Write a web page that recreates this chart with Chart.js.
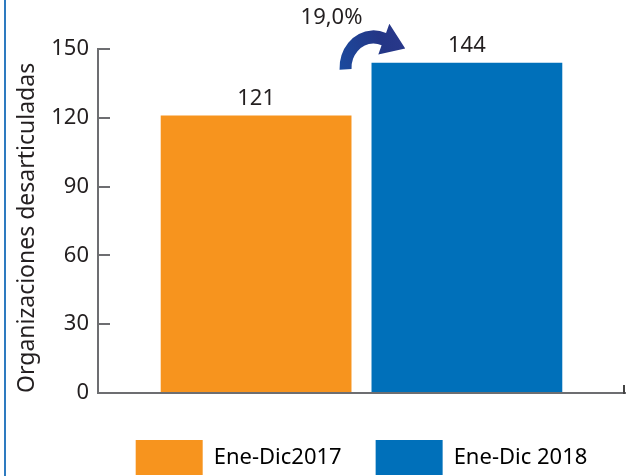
<!DOCTYPE html>
<html>
<head>
<meta charset="utf-8">
<script src="https://cdn.jsdelivr.net/npm/chart.js@4.4.1/dist/chart.umd.min.js"></script>
<style>
html, body { margin: 0; padding: 0; background: #fff; }
#grafico { display: block; }
</style>
</head>
<body>
<canvas id="grafico" width="628" height="476"></canvas>
<script>
// Datos del gráfico
var categorias = ['Ene-Dic2017', 'Ene-Dic 2018'];
var valores = [121, 144];
var colores = ['#F7941E', '#0070BA'];
var ticksY = [0, 30, 60, 90, 120, 150];
var tituloY = 'Organizaciones desarticuladas';

var fuente = '"Noto Sans", "Open Sans", sans-serif';
var colorTexto = '#231F20';
var colorEje = '#6D6E71';

// Variación entre los dos periodos
var variacion = ((valores[1] - valores[0]) / valores[0] * 100).toFixed(1).replace('.', ',') + '%';

// Puntos de la serie (posición de categoría en x)
var puntos = valores.map(function(v, i) { return { x: i, y: v }; });

// Borde izquierdo, etiquetas de valor y flecha de variación
var decoracion = {
    id: 'decoracion',
    beforeDraw: function(chart) {
        var ctx = chart.ctx;
        ctx.save();
        ctx.fillStyle = '#2E7BC0';
        ctx.fillRect(4, 0, 2, chart.height);
        ctx.restore();
    },
    afterDatasetsDraw: function(chart) {
        var ctx = chart.ctx;
        var barras = chart.getDatasetMeta(0).data;
        var area = chart.chartArea;
        ctx.save();
        ctx.font = '22px ' + fuente;
        ctx.fillStyle = colorTexto;
        ctx.textAlign = 'center';
        ctx.textBaseline = 'alphabetic';
        barras.forEach(function(b, i) {
            ctx.fillText(valores[i], b.x, b.y - 11);
        });

        // marca al final del eje x
        ctx.strokeStyle = '#444';
        ctx.lineWidth = 2;
        ctx.beginPath();
        ctx.moveTo(area.right - 1, area.bottom - 8);
        ctx.lineTo(area.right - 1, area.bottom + 1);
        ctx.stroke();

        // flecha curva
        var b2 = barras[1];
        var cx = b2.x - b2.width / 2 + 2;
        var cy = b2.y + 5;
        var ri = 22, ro = 34;
        var a0 = Math.PI - 0.05, a1 = 1.62 * Math.PI;
        ctx.save();
        ctx.translate(cx, cy);
        ctx.scale(1, 1.1);
        var grad = ctx.createLinearGradient(-ro, 0, ro + 20, -ro);
        grad.addColorStop(0, '#1B4A9E');
        grad.addColorStop(0.5, '#243686');
        grad.addColorStop(1, '#2E3A8F');
        ctx.fillStyle = grad;
        ctx.beginPath();
        ctx.arc(0, 0, ro, a0, a1);
        var rm = (ri + ro) / 2;
        var c = Math.cos(a1), s = Math.sin(a1);
        ctx.lineTo((ro + 9) * c, (ro + 9) * s);
        ctx.lineTo(rm * c - 23 * s, rm * s + 23 * c);
        ctx.lineTo((ri - 9) * c, (ri - 9) * s);
        ctx.lineTo(ri * c, ri * s);
        ctx.arc(0, 0, ri, a1, a0, true);
        ctx.closePath();
        ctx.fill();
        ctx.restore();

        ctx.fillStyle = colorTexto;
        ctx.fillText(variacion, cx - 42, 24);
        ctx.restore();
    }
};

var ctx = document.getElementById('grafico').getContext('2d');
var grafico = new Chart(ctx, {
    type: 'bar',
    data: {
        datasets: [{
            data: puntos,
            backgroundColor: colores,
            borderWidth: 0,
            barPercentage: 0.905,
            categoryPercentage: 1
        }]
    },
    options: {
        responsive: false,
        animation: false,
        devicePixelRatio: 1,
        layout: { padding: { left: 10, right: 3, top: 49, bottom: -9 } },
        scales: {
            x: {
                type: 'linear',
                min: -0.75,
                max: 1.75,
                offset: false,
                afterBuildTicks: function(s) {
                    s.ticks = puntos.map(function(p) { return { value: p.x }; });
                },
                grid: { display: false },
                border: { display: true, color: colorEje, width: 2 },
                ticks: { display: false },
                afterFit: function(s) { s.height = 13; }
            },
            y: {
                min: 0,
                max: 150,
                afterBuildTicks: function(s) {
                    s.ticks = ticksY.map(function(v) { return { value: v }; });
                },
                ticks: {
                    font: { family: fuente, size: 22 },
                    color: colorTexto,
                    padding: 21
                },
                grid: {
                    drawOnChartArea: false,
                    tickLength: -12,
                    color: colorEje,
                    lineWidth: 2
                },
                border: { color: colorEje, width: 2 },
                title: {
                    display: true,
                    text: tituloY,
                    align: 'start',
                    font: { family: fuente, size: 23 },
                    color: colorTexto,
                    padding: { top: 4, bottom: 0 }
                },
                afterFit: function(s) { s.width = 88; }
            }
        },
        plugins: {
            legend: {
                position: 'bottom',
                fullSize: false,
                labels: {
                    boxWidth: 67,
                    boxHeight: 35,
                    padding: 34,
                    color: colorTexto,
                    font: { family: fuente, size: 22 },
                    generateLabels: function() {
                        return categorias.map(function(c, i) {
                            return { text: c, fillStyle: colores[i], strokeStyle: colores[i], lineWidth: 0, hidden: false, index: i };
                        });
                    }
                }
            },
            tooltip: { enabled: false }
        }
    },
    plugins: [decoracion]
});
</script>
</body>
</html>
